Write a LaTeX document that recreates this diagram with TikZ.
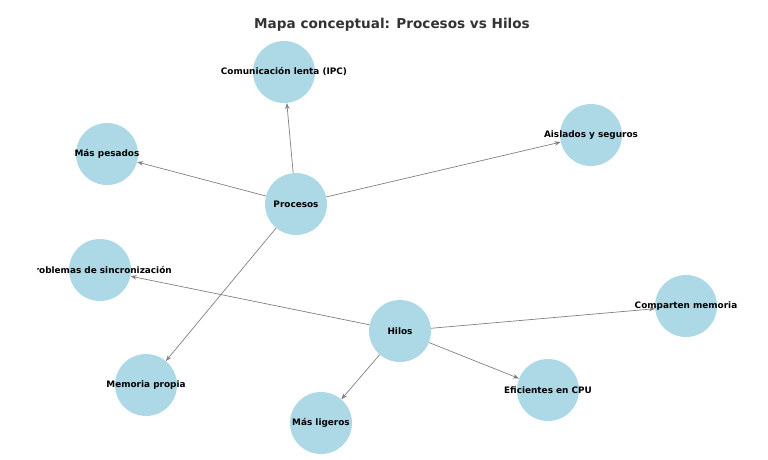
\documentclass[tikz,border=0pt]{standalone}
\usepackage{fontspec}
\setmainfont{DejaVu Sans}
\usepackage{xcolor}
\usetikzlibrary{arrows.meta,positioning}
\definecolor{nodeblue}{HTML}{ADD8E6}
\definecolor{titlegray}{HTML}{333333}
\tikzset{
  concept/.style ={circle,fill=nodeblue,minimum size=62pt,inner sep=0pt},
  lbl/.style     ={font=\fontsize{8.9}{10}\selectfont\bfseries,text=black},
  link/.style    ={draw=gray,line width=0.7pt,-{Stealth[length=6pt,width=4.5pt]}},
  heading/.style ={font=\fontsize{13.6}{16}\selectfont\bfseries,text=titlegray},
}

\begin{document}
\begin{tikzpicture}[x=1pt,y=-1pt]
  \useasboundingbox (0,0) rectangle (768,460);
  \node[heading] (title) at (392,25) {Mapa conceptual: Procesos vs Hilos};
  \clip (37,0) rectangle (768,460);
  % the two hubs
  \node[concept,label={[lbl]center:Procesos}] (proc) at (296,204) {};
  \node[concept,label={[lbl]center:Hilos}]    (hilo) at (400,331) {};
  % what processes are
  \foreach \x/\y/\name/\txt in {284/72/ipc/Comunicación lenta (IPC),
                                107/154/pesa/Más pesados,
                                591/135/aisl/Aislados y seguros,
                                146/385/memp/Memoria propia}{
     \node[concept,label={[lbl]center:\txt}] (\name) at (\x,\y) {};
     \draw[link] (proc)--(\name);
  }
  % what threads are
  \foreach \x/\y/\name/\txt in {100/270/sinc/Problemas de sincronización,
                                686/306/comp/Comparten memoria,
                                548/390/efic/Eficientes en CPU,
                                321/423/lige/Más ligeros}{
     \node[concept,label={[lbl]center:\txt}] (\name) at (\x,\y) {};
     \draw[link] (hilo)--(\name);
  }
\end{tikzpicture}
\end{document}
